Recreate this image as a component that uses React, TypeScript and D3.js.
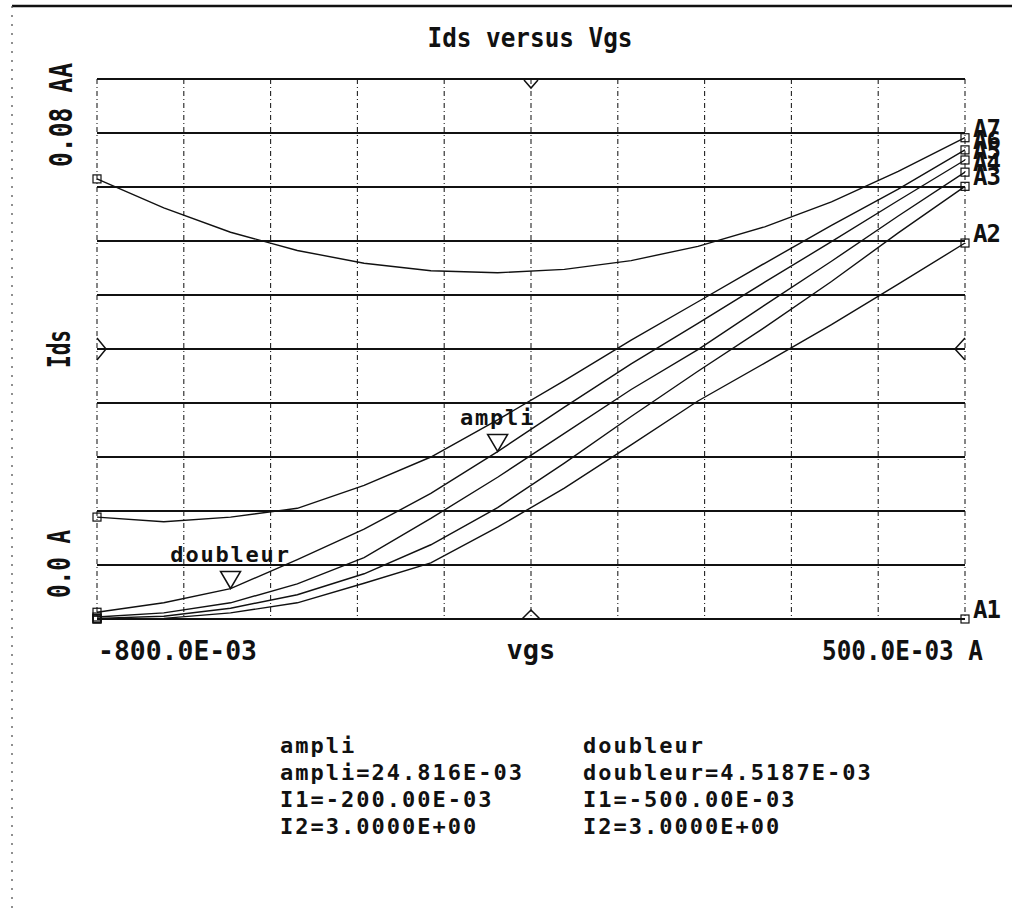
import React from "react";
import * as d3 from "d3";

// Sweep of the gate voltage (V)
const VGS = [-0.8, -0.7, -0.6, -0.5, -0.4, -0.3, -0.2, -0.1, 0.0, 0.1, 0.2, 0.3, 0.4, 0.5];

// Drain current traces (A), one value per VGS point
const IDS_A1 = [0, 0, 0, 0, 0, 0, 0, 0, 0, 0, 0, 0, 0, 0];
const IDS_A2 = [0.0, 0.0001, 0.0009, 0.0024, 0.0053, 0.0083, 0.0136, 0.0194, 0.0258, 0.0323, 0.0379, 0.0436, 0.0496, 0.0557];
const IDS_A3 = [0.0001, 0.0004, 0.0016, 0.0036, 0.0067, 0.011, 0.0165, 0.0231, 0.03, 0.0367, 0.0432, 0.05, 0.0572, 0.0641];
const IDS_A4 = [0.0003, 0.0009, 0.0024, 0.0052, 0.0091, 0.0149, 0.021, 0.0275, 0.034, 0.0399, 0.0465, 0.053, 0.0597, 0.0662];
const IDS_A5 = [0.001, 0.0024, 0.0045, 0.0088, 0.0133, 0.0186, 0.0248, 0.0314, 0.0378, 0.0438, 0.0499, 0.0559, 0.062, 0.068];
const IDS_A6 = [0.0151, 0.0144, 0.0151, 0.0164, 0.0198, 0.024, 0.0295, 0.0353, 0.0413, 0.047, 0.0527, 0.0583, 0.0637, 0.0695];
const IDS_A7 = [0.0652, 0.0609, 0.0573, 0.0546, 0.0527, 0.0516, 0.0513, 0.0518, 0.0531, 0.0552, 0.0581, 0.0618, 0.0663, 0.0713];

const TRACE_NAMES = ["A1", "A2", "A3", "A4", "A5", "A6", "A7"];
const TRACE_VALUES = [IDS_A1, IDS_A2, IDS_A3, IDS_A4, IDS_A5, IDS_A6, IDS_A7];

// Axis extents and texts
const VGS_DOMAIN = [-0.8, 0.5];
const IDS_DOMAIN = [0, 0.08];
const X_DIVISIONS = 10;
const Y_DIVISIONS = 10;
const TITLE = "Ids versus Vgs";
const X_MIN_LABEL = "-800.0E-03";
const X_NAME = "vgs";
const X_MAX_LABEL = "500.0E-03 A";
const Y_MIN_LABEL = "0.0 A";
const Y_NAME = "Ids";
const Y_MAX_LABEL = "0.08 AA";

// Markers placed on trace A5
const MARKER_NAMES = ["ampli", "doubleur"];
const MARKER_VGS = [-0.2, -0.6];
const MARKER_IDS = [0.024816, 0.0045187];

// Marker readouts printed under the plot
const READOUT_AMPLI = ["ampli", "ampli=24.816E-03", "I1=-200.00E-03", "I2=3.0000E+00"];
const READOUT_DOUBLEUR = ["doubleur", "doubleur=4.5187E-03", "I1=-500.00E-03", "I2=3.0000E+00"];

const W = 1012;
const H = 913;
const PLOT = { left: 97, right: 965, top: 79, bottom: 619 };
const FONT = "'DejaVu Sans Mono', 'Liberation Mono', monospace";

export default function App() {
  const x = d3.scaleLinear().domain(VGS_DOMAIN).range([PLOT.left, PLOT.right]);
  const y = d3.scaleLinear().domain(IDS_DOMAIN).range([PLOT.bottom, PLOT.top]);

  const line = d3
    .line<[number, number]>()
    .x((d) => x(d[0]))
    .y((d) => y(d[1]))
    .curve(d3.curveLinear);

  const traces = TRACE_NAMES.map((name, i) => {
    const pts: [number, number][] = VGS.map((v, j) => [v, TRACE_VALUES[i][j]]);
    return { name, pts };
  });

  const xGrid = d3.range(X_DIVISIONS + 1).map((k) => PLOT.left + ((PLOT.right - PLOT.left) * k) / X_DIVISIONS);
  const yGrid = d3.range(Y_DIVISIONS + 1).map((k) => PLOT.top + ((PLOT.bottom - PLOT.top) * k) / Y_DIVISIONS);
  const xMid = (PLOT.left + PLOT.right) / 2;
  const yMid = (PLOT.top + PLOT.bottom) / 2;

  // right-hand trace labels, stacked as the plotter prints them
  const endLabels = traces.map((t) => {
    const last = t.pts[t.pts.length - 1];
    return { name: t.name, y: y(last[1]) };
  });

  return (
    <svg
      width={W}
      height={H}
      viewBox={`0 0 ${W} ${H}`}
      style={{ position: "absolute", left: 0, top: 0, background: "#fff" }}
      fontFamily={FONT}
    >
      <rect x={0} y={0} width={W} height={H} fill="#fff" />

      {/* page frame */}
      <line x1={12} y1={6} x2={W} y2={6} stroke="#111" strokeWidth={2.4} />
      <line x1={12} y1={6} x2={12} y2={H} stroke="#555" strokeWidth={1.3} strokeDasharray="2,7" />

      {/* title */}
      <text x={530} y={47} textAnchor="middle" fontSize={26} fontWeight="bold" textLength={205} lengthAdjust="spacingAndGlyphs" fill="#111">
        {TITLE}
      </text>

      {/* vertical grid: dash-dot */}
      {xGrid.map((gx, i) => (
        <line key={`vx${i}`} x1={gx} y1={PLOT.top} x2={gx} y2={PLOT.bottom} stroke="#222" strokeWidth={1.1} strokeDasharray="5,3,1,3" />
      ))}
      {/* horizontal grid: solid */}
      {yGrid.map((gy, i) => (
        <line key={`hy${i}`} x1={PLOT.left} y1={gy} x2={PLOT.right} y2={gy} stroke="#111" strokeWidth={2} />
      ))}

      {/* centre marks on the frame */}
      <path d={`M${xMid - 7},${PLOT.top + 1} L${xMid},${PLOT.top + 9} L${xMid + 7},${PLOT.top + 1}`} fill="none" stroke="#111" strokeWidth={1.5} />
      <path d={`M${xMid - 9},${PLOT.bottom} L${xMid},${PLOT.bottom - 9} L${xMid + 9},${PLOT.bottom}`} fill="none" stroke="#111" strokeWidth={1.5} />
      <path d={`M${PLOT.left},${yMid - 11} L${PLOT.left + 9},${yMid} L${PLOT.left},${yMid + 11}`} fill="none" stroke="#111" strokeWidth={1.5} />
      <path d={`M${PLOT.right},${yMid - 11} L${PLOT.right - 10},${yMid} L${PLOT.right},${yMid + 11}`} fill="none" stroke="#111" strokeWidth={1.5} />

      {/* traces */}
      {traces.map((t) => (
        <path key={t.name} d={line(t.pts) || ""} fill="none" stroke="#111" strokeWidth={1.4} />
      ))}

      {/* end markers */}
      {traces.map((t) =>
        [t.pts[0], t.pts[t.pts.length - 1]].map((p, k) => (
          <rect
            key={`${t.name}-m${k}`}
            x={x(p[0]) - 4}
            y={y(p[1]) - 4}
            width={8}
            height={8}
            fill="none"
            stroke="#111"
            strokeWidth={1.2}
          />
        ))
      )}

      {/* trace labels on the right */}
      {endLabels.map((l) => (
        <text key={`lbl-${l.name}`} x={973} y={l.y - 1} fontSize={24} fontWeight="bold" letterSpacing={-1} fill="#111">
          {l.name}
        </text>
      ))}

      {/* markers */}
      {MARKER_NAMES.map((name, i) => {
        const mx = x(MARKER_VGS[i]);
        const my = y(MARKER_IDS[i]);
        return (
          <g key={name}>
            <path d={`M${mx},${my} L${mx - 10},${my - 17} L${mx + 10},${my - 17} Z`} fill="#fff" stroke="#111" strokeWidth={1.5} />
            <text x={mx} y={my - 26} textAnchor="middle" fontSize={22} fontWeight="bold" letterSpacing={1.8} fill="#111">
              {name}
            </text>
          </g>
        );
      })}

      {/* y axis texts */}
      <text transform="translate(72,167) rotate(-90) scale(1,1.2)" fontSize={26} fontWeight="bold" textLength={104} lengthAdjust="spacingAndGlyphs" fill="#111">
        {Y_MAX_LABEL}
      </text>
      <text transform={`translate(70,${yMid + 19}) rotate(-90) scale(1,1.2)`} fontSize={26} fontWeight="bold" textLength={38} lengthAdjust="spacingAndGlyphs" fill="#111">
        {Y_NAME}
      </text>
      <text transform="translate(70,598) rotate(-90) scale(1,1.2)" fontSize={26} fontWeight="bold" textLength={68} lengthAdjust="spacingAndGlyphs" fill="#111">
        {Y_MIN_LABEL}
      </text>

      {/* x axis texts */}
      <text x={98} y={660} fontSize={27} fontWeight="bold" textLength={159} lengthAdjust="spacingAndGlyphs" fill="#111">
        {X_MIN_LABEL}
      </text>
      <text x={xMid} y={659} textAnchor="middle" fontSize={27} fontWeight="bold" fill="#111">
        {X_NAME}
      </text>
      <text x={822} y={660} fontSize={27} fontWeight="bold" textLength={161} lengthAdjust="spacingAndGlyphs" fill="#111">
        {X_MAX_LABEL}
      </text>

      {/* marker readouts */}
      {READOUT_AMPLI.map((s, i) => (
        <text key={`ra${i}`} x={280} y={753 + i * 27} fontSize={22} fontWeight="bold" letterSpacing={2} fill="#111">
          {s}
        </text>
      ))}
      {READOUT_DOUBLEUR.map((s, i) => (
        <text key={`rd${i}`} x={583} y={753 + i * 27} fontSize={22} fontWeight="bold" letterSpacing={2} fill="#111">
          {s}
        </text>
      ))}
    </svg>
  );
}
